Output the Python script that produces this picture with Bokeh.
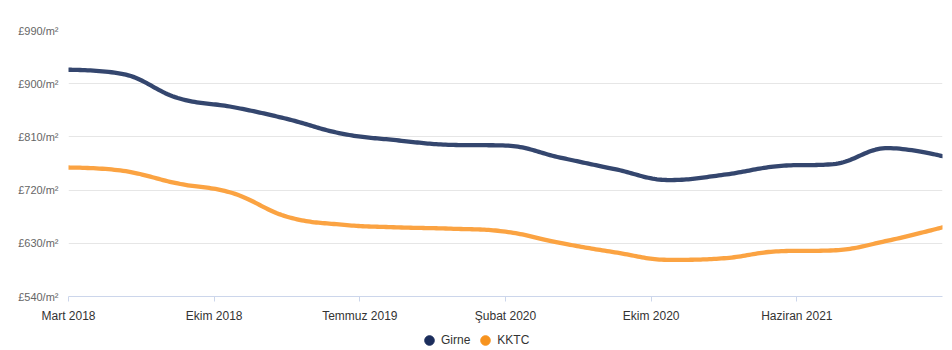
from bokeh.plotting import figure
from bokeh.models import Range1d, FixedTicker, Legend, LegendItem
from bokeh.layouts import column
from bokeh.embed import file_html
from bokeh.resources import INLINE

# ---- data ----
tick_labels = ["Mart 2018", "Ekim 2018", "Temmuz 2019", "Şubat 2020", "Ekim 2020", "Haziran 2021"]
tick_positions = [0, 8, 16, 24, 32, 40]
periods = [0, 3, 6, 9, 12, 15, 18, 21, 24, 27, 30, 33, 36, 39, 42, 45, 48]
girne = [923.6, 916.3, 875.8, 860.6, 840.4, 815.6, 804.4, 796.5, 795.4, 775.0,
         755.5, 737.0, 746.0, 760.6, 764.0, 791.0, 777.4]
kktc = [758.2, 752.6, 731.2, 715.0, 675.0, 661.5, 657.0, 654.7, 649.7, 630.6,
        614.8, 602.0, 604.7, 616.5, 618.0, 634.5, 657.0]
y_ticks = [540, 630, 720, 810, 900, 990]
series_names = ["Girne", "KKTC"]

FONT = "Liberation Sans"


def spline(xs, ys, n=24):
    """Highcharts-style spline through the data points."""
    sm = 1.5
    den = sm + 1
    m = len(xs)
    lc = [(xs[i], ys[i]) for i in range(m)]
    rc = [(xs[i], ys[i]) for i in range(m)]
    for i in range(1, m - 1):
        px, py = xs[i], ys[i]
        lx, ly = xs[i - 1], ys[i - 1]
        nx, ny = xs[i + 1], ys[i + 1]
        lcx = (sm * px + lx) / den
        lcy = (sm * py + ly) / den
        rcx = (sm * px + nx) / den
        rcy = (sm * py + ny) / den
        if rcx != lcx:
            corr = ((rcy - lcy) * (rcx - px)) / (rcx - lcx) + py - rcy
            lcy += corr
            rcy += corr
        if lcy > ly and lcy > py:
            lcy = max(ly, py)
            rcy = 2 * py - lcy
        elif lcy < ly and lcy < py:
            lcy = min(ly, py)
            rcy = 2 * py - lcy
        if rcy > ny and rcy > py:
            rcy = max(ny, py)
            lcy = 2 * py - rcy
        elif rcy < ny and rcy < py:
            rcy = min(ny, py)
            lcy = 2 * py - rcy
        lc[i] = (lcx, lcy)
        rc[i] = (rcx, rcy)
    ox, oy = [xs[0]], [ys[0]]
    for i in range(1, m):
        p0 = (xs[i - 1], ys[i - 1])
        p1 = rc[i - 1]
        p2 = lc[i]
        p3 = (xs[i], ys[i])
        for k in range(1, n + 1):
            t = k / n
            a = (1 - t) ** 3
            b = 3 * (1 - t) ** 2 * t
            c = 3 * (1 - t) * t ** 2
            d = t ** 3
            ox.append(a * p0[0] + b * p1[0] + c * p2[0] + d * p3[0])
            oy.append(a * p0[1] + b * p1[1] + c * p2[1] + d * p3[1])
    return ox, oy


p = figure(width=952, height=325, output_backend="svg", toolbar_location=None,
           x_range=Range1d(0, 48), y_range=Range1d(540, 990),
           min_border_left=68, min_border_right=10, min_border_top=30, min_border_bottom=29)
p.outline_line_color = None
p.background_fill_color = "white"
p.border_fill_color = "white"

gx, gy = spline(periods, girne)
kx, ky = spline(periods, kktc)
p.line(gx, gy, line_color="#34466e", line_width=4.3, line_join="round", line_cap="round")
p.line(kx, ky, line_color="#fba342", line_width=4.3, line_join="round", line_cap="round")

# axes
p.xaxis.ticker = FixedTicker(ticks=tick_positions)
p.xaxis.major_label_overrides = {t: l for t, l in zip(tick_positions, tick_labels)}
p.xaxis.axis_line_color = "#ccd6eb"
p.xaxis.major_tick_line_color = "#ccd6eb"
p.xaxis.major_tick_in = 0
p.xaxis.major_tick_out = 5
p.xaxis.minor_tick_line_color = None
p.xaxis.major_label_standoff = 7
p.xaxis.major_label_text_font = FONT
p.xaxis.major_label_text_font_size = "12px"
p.xaxis.major_label_text_color = "#333333"

p.yaxis.ticker = FixedTicker(ticks=y_ticks)
p.yaxis.major_label_overrides = {v: f"£{v}/m²" for v in y_ticks}
p.yaxis.axis_line_color = None
p.yaxis.major_tick_line_color = None
p.yaxis.minor_tick_line_color = None
p.yaxis.major_tick_out = 0
p.yaxis.major_tick_in = 0
p.yaxis.major_label_standoff = 10
p.yaxis.major_label_text_font = FONT
p.yaxis.major_label_text_font_size = "11px"
p.yaxis.major_label_text_color = "#666666"

p.xgrid.grid_line_color = None
p.ygrid.ticker = FixedTicker(ticks=y_ticks)
p.ygrid.grid_line_color = "#e6e6e6"
p.ygrid.grid_line_width = 1

# legend strip
lf = figure(width=952, height=25, output_backend="svg", toolbar_location=None,
            x_range=Range1d(0, 1), y_range=Range1d(0, 1),
            min_border_left=0, min_border_right=0, min_border_top=0, min_border_bottom=0)
lf.axis.visible = False
lf.grid.visible = False
lf.outline_line_color = None
lf.border_fill_color = "white"
r1 = lf.scatter(x=[-5], y=[-5], marker="circle", size=12, fill_color="#1b2d5c", line_color="#1b2d5c")
r2 = lf.scatter(x=[-5], y=[-5], marker="circle", size=12, fill_color="#f7931e", line_color="#f7931e")
legend = Legend(items=[LegendItem(label=series_names[0], renderers=[r1]),
                       LegendItem(label=series_names[1], renderers=[r2])],
                orientation="horizontal", location=(349, -4),
                border_line_color=None, background_fill_alpha=0,
                padding=0, margin=0, spacing=3,
                glyph_width=24, glyph_height=28, label_height=28, label_standoff=0,
                label_text_font=FONT, label_text_font_size="12px", label_text_color="#333333")
lf.add_layout(legend, "center")

open("out.html", "w").write(file_html(column(p, lf, spacing=0), INLINE))
